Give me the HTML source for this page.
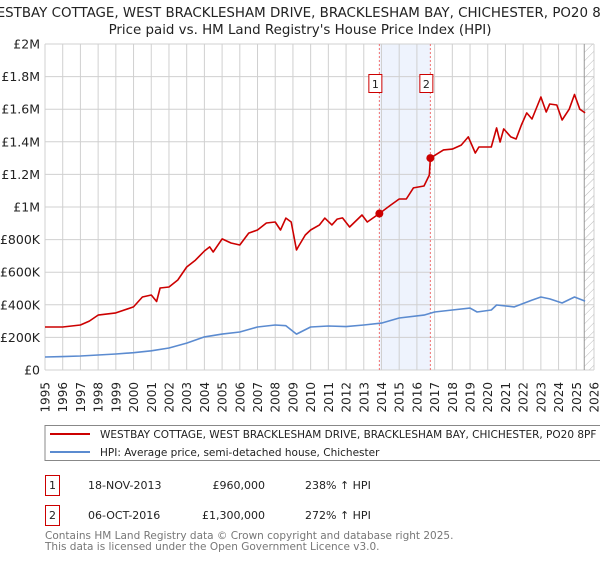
<!DOCTYPE html>
<html><head><meta charset="utf-8"><style>
body{margin:0;background:#fff;width:600px;height:560px;overflow:hidden;font-family:"Liberation Sans","DejaVu Sans",sans-serif}
svg text{font-family:"DejaVu Sans","Liberation Sans",sans-serif}
</style></head><body>
<svg id="chart" width="600" height="560" xmlns="http://www.w3.org/2000/svg">
<defs><pattern id="hatch" patternUnits="userSpaceOnUse" width="6" height="6" patternTransform="rotate(45)"><line x1="0" y1="0" x2="0" y2="6" stroke="#bbb" stroke-width="1"/></pattern></defs>
<text x="300" y="17" font-size="13.4" text-anchor="middle" fill="#222">WESTBAY COTTAGE, WEST BRACKLESHAM DRIVE, BRACKLESHAM BAY, CHICHESTER, PO20 8PF</text>
<text x="300" y="34" font-size="13.4" text-anchor="middle" fill="#222">Price paid vs. HM Land Registry's House Price Index (HPI)</text>
<g id="grid"></g><g id="marks"></g>
<rect x="45" y="425.5" width="560" height="35" fill="#fff" stroke="#888"/>
<line x1="50" y1="434" x2="90" y2="434" stroke="#cc0000" stroke-width="2"/>
<text x="100" y="438" font-size="10.5" fill="#222">WESTBAY COTTAGE, WEST BRACKLESHAM DRIVE, BRACKLESHAM BAY, CHICHESTER, PO20 8PF</text>
<line x1="50" y1="452" x2="90" y2="452" stroke="#5b8bd0" stroke-width="2"/>
<text x="100" y="456" font-size="10.5" fill="#222">HPI: Average price, semi-detached house, Chichester</text>
<g font-size="11" fill="#222">
<rect x="45.5" y="475.5" width="14" height="20" fill="#fff" stroke="#cc0000"/><text x="52.5" y="489" text-anchor="middle">1</text>
<text x="88" y="489">18-NOV-2013</text><text x="265" y="489" text-anchor="end">£960,000</text><text x="305" y="489">238% ↑ HPI</text></g>
<g font-size="11" fill="#222">
<rect x="45.5" y="505.5" width="14" height="20" fill="#fff" stroke="#cc0000"/><text x="52.5" y="519" text-anchor="middle">2</text>
<text x="88" y="519">06-OCT-2016</text><text x="265" y="519" text-anchor="end">£1,300,000</text><text x="305" y="519">272% ↑ HPI</text></g>
<text x="45" y="539" font-size="10.5" fill="#777">Contains HM Land Registry data © Crown copyright and database right 2025.</text>
<text x="45" y="550" font-size="10.5" fill="#777">This data is licensed under the Open Government Licence v3.0.</text>
</svg>
<script>
const yTicks=[0,200,400,600,800,1000,1200,1400,1600,1800,2000];
const yTickLabels=["£0","£200K","£400K","£600K","£800K","£1M","£1.2M","£1.4M","£1.6M","£1.8M","£2M"];
const years=[1995,1996,1997,1998,1999,2000,2001,2002,2003,2004,2005,2006,2007,2008,2009,2010,2011,2012,2013,2014,2015,2016,2017,2018,2019,2020,2021,2022,2023,2024,2025,2026];
const propT=[1995,1996,1997,1997.5,1998,1999,2000,2000.5,2001,2001.3,2001.5,2002,2002.5,2003,2003.5,2004,2004.3,2004.5,2005,2005.5,2006,2006.5,2007,2007.5,2008,2008.3,2008.6,2008.9,2009.2,2009.3,2009.7,2010,2010.5,2010.8,2011.2,2011.5,2011.8,2012.2,2012.9,2013.2,2013.88,2014.5,2015,2015.4,2015.8,2016.4,2016.7,2016.76,2017.5,2018,2018.5,2018.9,2019.3,2019.5,2020.2,2020.5,2020.7,2020.9,2021.3,2021.6,2021.9,2022.2,2022.5,2023,2023.3,2023.5,2023.9,2024.2,2024.6,2024.9,2025.2,2025.5];
const propV=[264,264,276,300,337,350,387,448,460,420,503,509,552,632,674,730,755,724,804,779,767,840,859,902,908,859,932,908,736,755,828,859,890,932,890,926,933,877,951,908,960,1010,1049,1049,1117,1129,1196,1300,1350,1355,1380,1430,1331,1368,1368,1485,1399,1479,1430,1417,1503,1577,1540,1675,1583,1632,1626,1534,1600,1690,1600,1577];
const hpiT=[1995,1996,1997,1998,1999,2000,2001,2002,2003,2004,2005,2006,2007,2008,2008.6,2009.2,2010,2011,2012,2013,2014,2015,2016.4,2017,2018,2019,2019.4,2020.2,2020.5,2021.5,2022.5,2023,2023.5,2024.2,2024.9,2025.5];
const hpiV=[80,82,86,92,98,106,118,135,165,203,220,233,264,276,272,220,264,270,266,276,288,319,337,356,368,380,356,368,399,387,429,448,436,411,448,423];
const sales=[{t:2013.88,v:960,n:"1"},{t:2016.76,v:1300,n:"2"}];
const L=45,R=594,T=44,B=370;
const x=t=>L+(t-1995)*(R-L)/31;
const y=v=>B-v*(B-T)/2000;
const NS="http://www.w3.org/2000/svg";
const g=document.getElementById('grid'),m=document.getElementById('marks');
function mk(p,tag,a){const e=document.createElementNS(NS,tag);for(const k in a)e.setAttribute(k,a[k]);p.appendChild(e);return e;}
const band=mk(g,'rect',{x:x(sales[0].t),y:T,width:x(sales[1].t)-x(sales[0].t),height:B-T,fill:'#eef3fd'});


years.forEach(yr=>{
  const l=mk(g,'line',{x1:x(yr),x2:x(yr),y1:T,y2:B,stroke:'#d0d0d0'});
  
  
  const tx=mk(g,'text',{transform:`translate(${x(yr)+4.5},382) rotate(-90)`,'font-size':'12','text-anchor':'end',fill:'#222'});
  tx.textContent=yr;
  
  
});
yTicks.forEach((v,i)=>{
  const l=mk(g,'line',{x1:L,x2:R,y1:y(v),y2:y(v),stroke:'#d0d0d0'});
  
  
  const tx=mk(g,'text',{x:L-5,y:y(v)+4.5,'font-size':'12.5','text-anchor':'end',fill:'#222'});
  tx.textContent=yTickLabels[i];
  
  
});
const hx=x(2025.45);
const hatch=mk(g,'rect',{x:hx,y:T,width:R-hx,height:B-T,fill:'url(#hatch)'});


mk(g,'line',{x1:hx,x2:hx,y1:T,y2:B,stroke:'#999'});
sales.forEach(s=>{
  const l=mk(m,'line',{x1:x(s.t),x2:x(s.t),y1:T,y2:B,stroke:'#f07070','stroke-dasharray':'2,2'});
  
  
  const bx=mk(m,'rect',{x:x(s.t)-10.5,y:74.5,width:13,height:18,fill:'#fff',stroke:'#cc0000'});
  
  
  const t=mk(m,'text',{x:x(s.t)-4,y:88,'font-size':'11','text-anchor':'middle',fill:'#222'});
  t.textContent=s.n;
});
function path(T2,V,col,name){
  const p=mk(m,'path',{d:T2.map((t,i)=>(i?'L':'M')+x(t).toFixed(1)+','+y(V[i]).toFixed(1)).join(''),fill:'none',stroke:col,'stroke-width':'1.6','stroke-linejoin':'round'});
  
  
}
path(hpiT,hpiV,'#5b8bd0','hpi-line');
path(propT,propV,'#cc0000','property-price-line');
sales.forEach(s=>{
  const c=mk(m,'circle',{cx:x(s.t),cy:y(s.v),r:4,fill:'#cc0000'});
  
  
});
</script>
</body></html>
